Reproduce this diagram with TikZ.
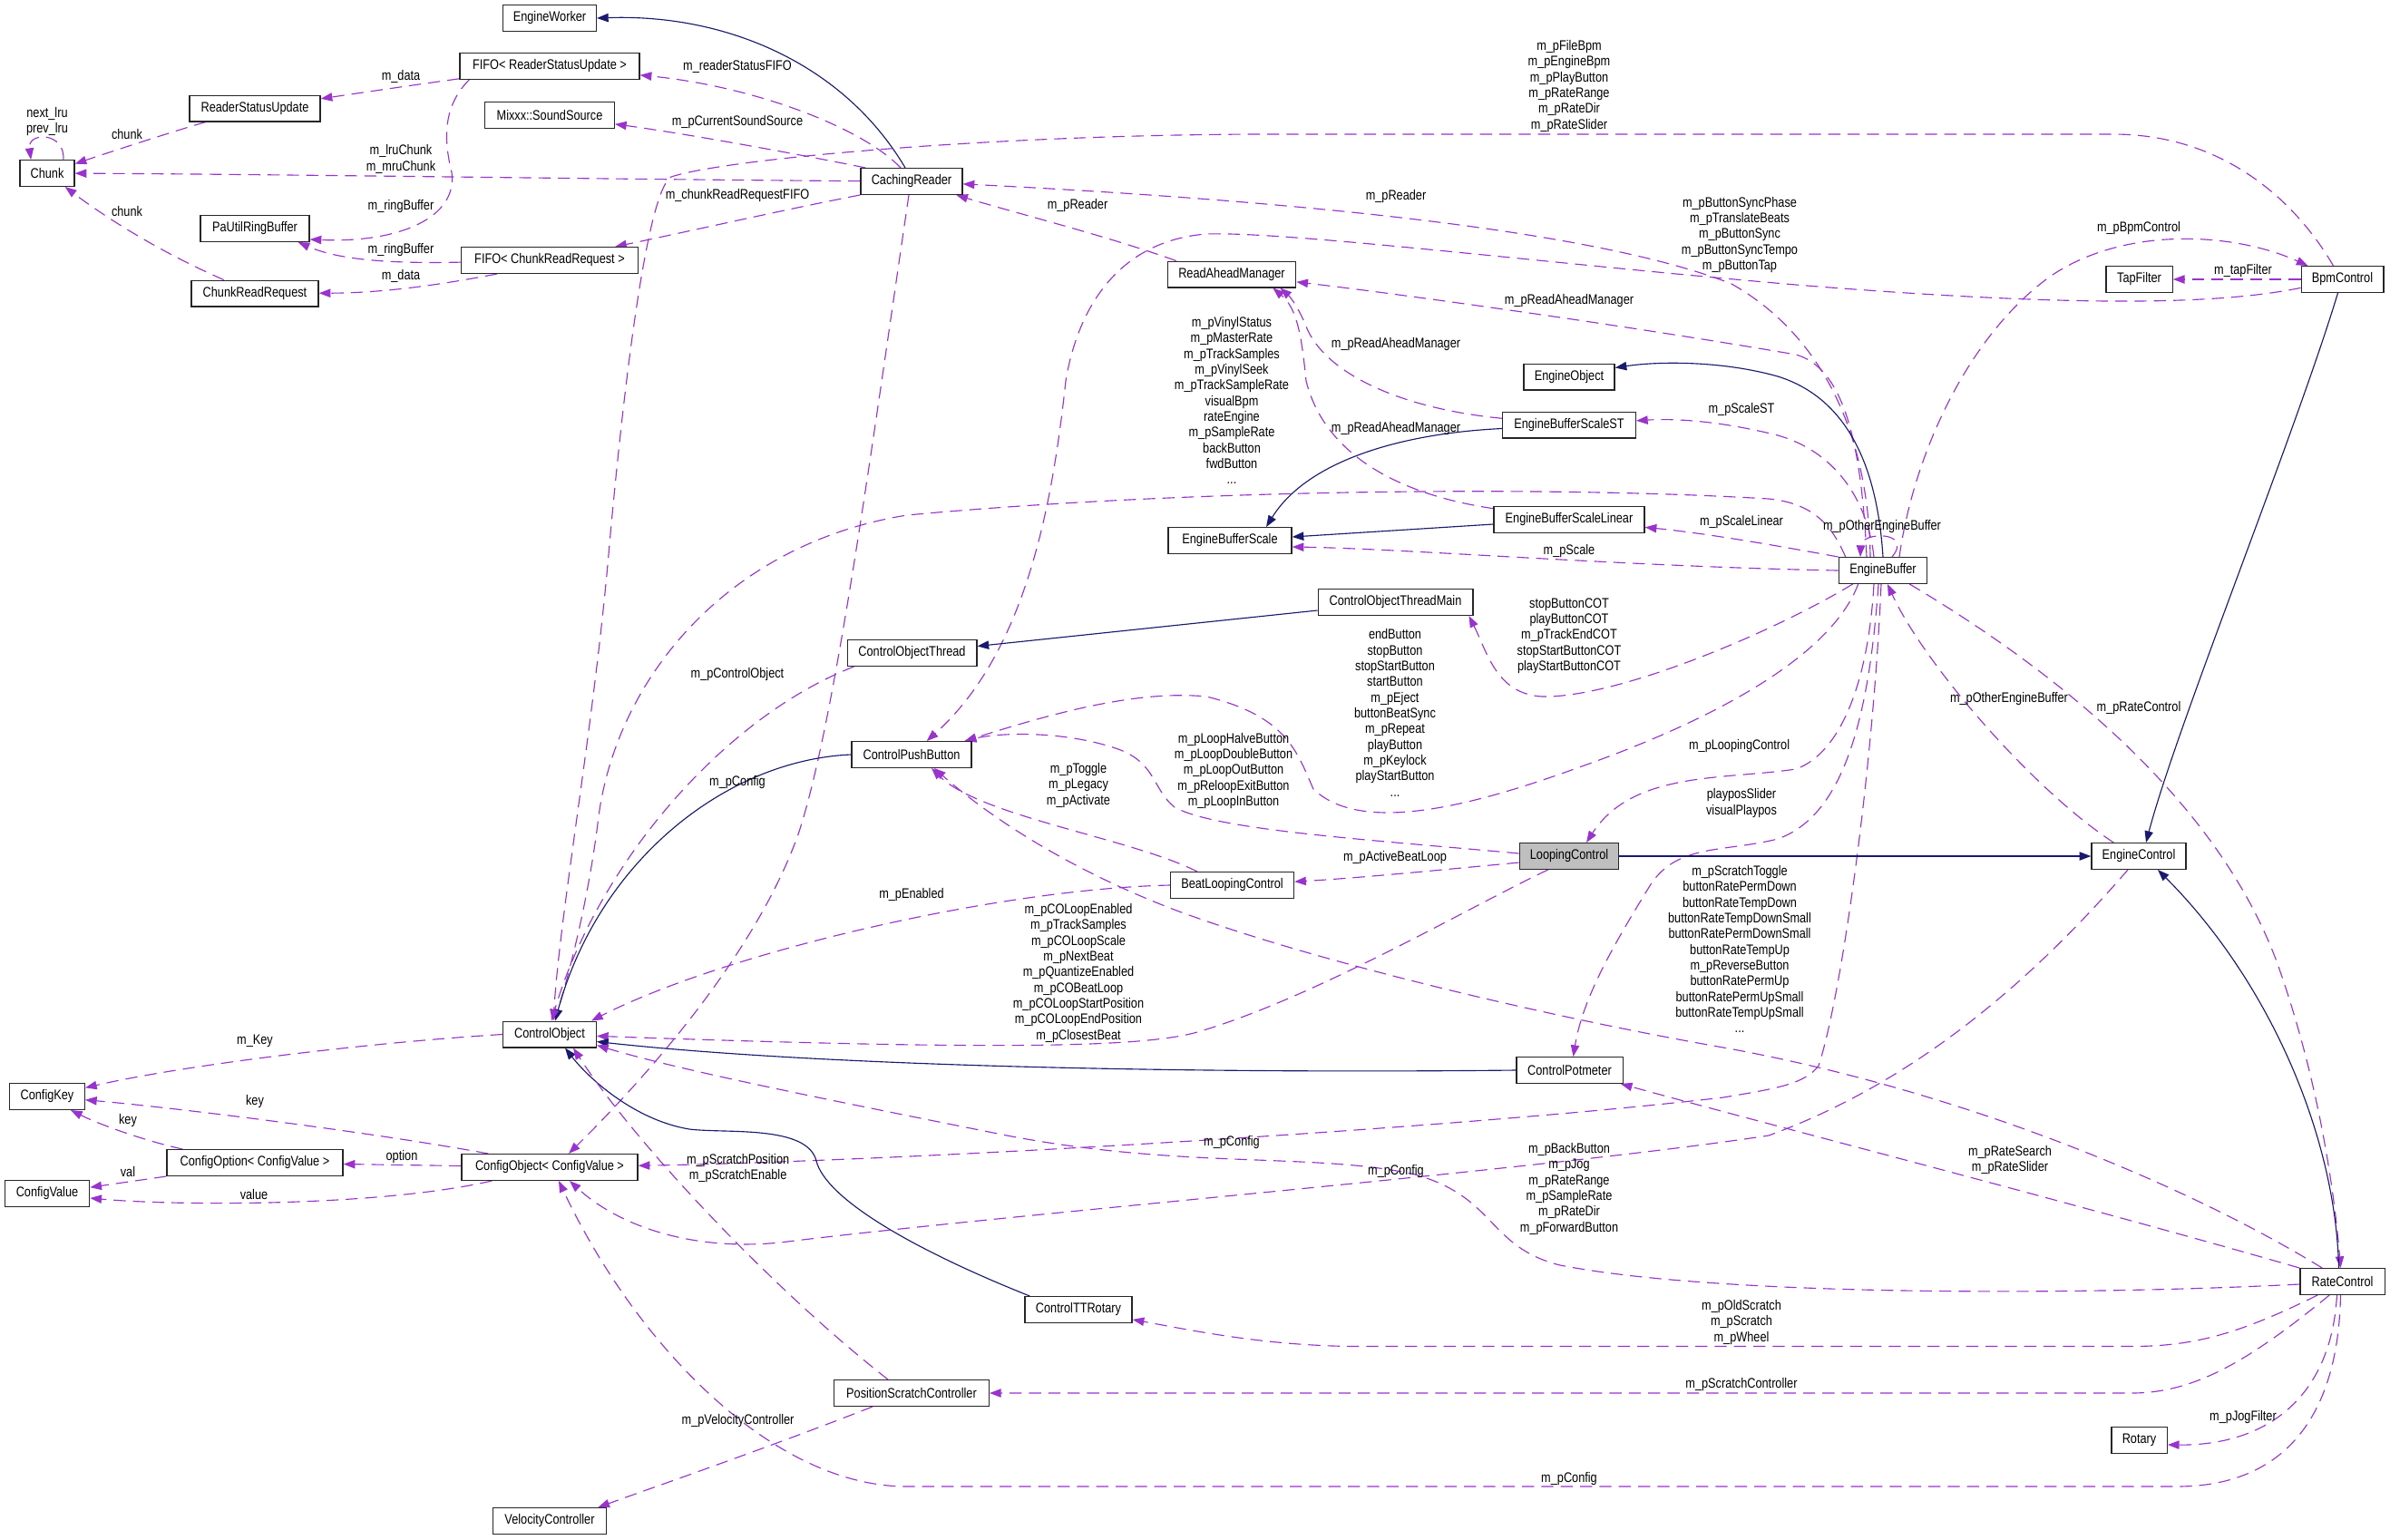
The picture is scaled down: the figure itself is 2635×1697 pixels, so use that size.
\documentclass[tikz,border=0pt]{standalone}
\usepackage{fontspec}
\setmainfont{Liberation Sans}[FakeStretch=0.83]
\usetikzlibrary{arrows.meta,calc}
\definecolor{depc}{HTML}{9A32CD}
\definecolor{inhc}{HTML}{191970}
\definecolor{selc}{HTML}{BFBFBF}
\pgfdeclarelayer{bg}
\pgfsetlayers{bg,main}
\begin{document}
\begin{tikzpicture}[x=0.75pt,y=-0.75pt,
  every node/.style={font=\fontsize{11.5pt}{13pt}\selectfont},
  box/.style={draw=black!85, line width=1pt, fill=white, inner xsep=2pt, inner ysep=0pt, minimum height=21.5pt},
  lbl/.style={align=center, inner sep=0pt},
  dep/.style={draw=depc, line width=0.85pt, dash pattern=on 10pt off 6pt, -{Triangle[length=9.5pt,width=7pt]}},
  inh/.style={draw=inhc, line width=0.85pt, -{Triangle[length=9.5pt,width=7pt]}}]
\useasboundingbox (0,0) rectangle (2635,1697);

% ---------------- nodes ----------------
\node[box, minimum width=77pt] (EW) at (606,20) {EngineWorker};
\node[box, minimum width=148.5pt] (FRS) at (606,73) {FIFO< ReaderStatusUpdate >};
\node[box, minimum width=107pt] (MSS) at (606,127) {Mixxx::SoundSource};
\node[box, minimum width=108pt] (RSU) at (281,119.5) {ReaderStatusUpdate};
\node[box, minimum width=45pt] (CH) at (52,191) {Chunk};
\node[box, minimum width=90pt] (PRB) at (281,252) {PaUtilRingBuffer};
\node[box, minimum width=146pt] (FCR) at (606,287) {FIFO< ChunkReadRequest >};
\node[box, minimum width=105pt] (CRR) at (281,323.5) {ChunkReadRequest};
\node[box, minimum width=84pt] (CR) at (1005,200) {CachingReader};
\node[box, minimum width=106pt] (RAM) at (1358,302.5) {ReadAheadManager};
\node[box, minimum width=75pt] (EO) at (1730,415.5) {EngineObject};
\node[box, minimum width=110pt] (EBST) at (1730,468.5) {EngineBufferScaleST};
\node[box, minimum width=124.5pt] (EBSL) at (1730,573) {EngineBufferScaleLinear};
\node[box, minimum width=102pt] (EBS) at (1356,596) {EngineBufferScale};
\node[box, minimum width=55pt] (TF) at (2358.5,308) {TapFilter};
\node[box, minimum width=68pt] (BC) at (2582.5,308) {BpmControl};
\node[box, minimum width=73pt] (EB) at (2076,629) {EngineBuffer};
\node[box, minimum width=128pt] (COTM) at (1538.5,664) {ControlObjectThreadMain};
\node[box, minimum width=107pt] (COT) at (1005.5,720) {ControlObjectThread};
\node[box, minimum width=99pt] (CPB) at (1005,832) {ControlPushButton};
\node[box, minimum width=102pt] (BLC) at (1358.5,976) {BeatLoopingControl};
\node[box, minimum width=82pt, fill=selc] (LC) at (1730,944) {LoopingControl};
\node[box, minimum width=78pt] (EC) at (2358,944) {EngineControl};
\node[box, minimum width=77pt] (CO) at (606,1140.5) {ControlObject};
\node[box, minimum width=88pt] (CPM) at (1730.5,1180) {ControlPotmeter};
\node[box, minimum width=62pt] (CK) at (52,1209) {ConfigKey};
\node[box, minimum width=145.5pt] (COpt) at (281,1282) {ConfigOption< ConfigValue >};
\node[box, minimum width=70pt] (CV) at (52,1316) {ConfigValue};
\node[box, minimum width=145.5pt] (CObj) at (606,1287) {ConfigObject< ConfigValue >};
\node[box, minimum width=88.5pt] (CTT) at (1189,1444) {ControlTTRotary};
\node[box, minimum width=70pt] (RC) at (2582.5,1413) {RateControl};
\node[box, minimum width=128pt] (PSC) at (1005,1536) {PositionScratchController};
\node[box, minimum width=46pt] (ROT) at (2358.5,1588) {Rotary};
\node[box, minimum width=94pt] (VC) at (606,1677) {VelocityController};

% ---------------- labels ----------------
\node[lbl] (l1) at (52,134) {next\_lru\\prev\_lru};
\node[lbl] (l2) at (140,148) {chunk};
\node[lbl] (l3) at (442,175.5) {m\_lruChunk\\m\_mruChunk};
\node[lbl] (l4) at (140,233) {chunk};
\node[lbl] (l5) at (442,84) {m\_data};
\node[lbl] (l6) at (442,227.6) {m\_ringBuffer};
\node[lbl] (l7) at (442,275.6) {m\_ringBuffer};
\node[lbl] (l8) at (442,304.6) {m\_data};
\node[lbl] (l9) at (813,73) {m\_readerStatusFIFO};
\node[lbl] (l10) at (813,134.5) {m\_pCurrentSoundSource};
\node[lbl] (l11) at (813,216) {m\_chunkReadRequestFIFO};
\node[lbl] (l12) at (1188,226.5) {m\_pReader};
\node[lbl] (l13) at (1539,216.7) {m\_pReader};
\node[lbl] (l14) at (1730,331.5) {m\_pReadAheadManager};
\node[lbl] (l15) at (1918,259) {m\_pButtonSyncPhase\\m\_pTranslateBeats\\m\_pButtonSync\\m\_pButtonSyncTempo\\m\_pButtonTap};
\node[lbl] (l16) at (1730,95) {m\_pFileBpm\\m\_pEngineBpm\\m\_pPlayButton\\m\_pRateRange\\m\_pRateDir\\m\_pRateSlider};
\node[lbl] (l17) at (2358,251.6) {m\_pBpmControl};
\node[lbl] (l18) at (2473,299) {m\_tapFilter};
\node[lbl] (l19) at (1539,380) {m\_pReadAheadManager};
\node[lbl] (l20) at (1539,472.6) {m\_pReadAheadManager};
\node[lbl] (l21) at (1920,451.5) {m\_pScaleST};
\node[lbl] (l22) at (1920,576) {m\_pScaleLinear};
\node[lbl] (l23) at (1730,607.5) {m\_pScale};
\node[lbl] (l24) at (2075,581) {m\_pOtherEngineBuffer};
\node[lbl] (l25) at (1730,701) {stopButtonCOT\\playButtonCOT\\m\_pTrackEndCOT\\stopStartButtonCOT\\playStartButtonCOT};
\node[lbl] (l26) at (1538,786) {endButton\\stopButton\\stopStartButton\\startButton\\m\_pEject\\buttonBeatSync\\m\_pRepeat\\playButton\\m\_pKeylock\\playStartButton\\...};
\node[lbl] (l27) at (1360,850) {m\_pLoopHalveButton\\m\_pLoopDoubleButton\\m\_pLoopOutButton\\m\_pReloopExitButton\\m\_pLoopInButton};
\node[lbl] (l28) at (1917.6,823) {m\_pLoopingControl};
\node[lbl] (l29) at (1920,885.5) {playposSlider\\visualPlaypos};
\node[lbl] (l30) at (1358,1260) {m\_pConfig};
\node[lbl] (l31) at (2215,771) {m\_pOtherEngineBuffer};
\node[lbl] (l32) at (2358,780.6) {m\_pRateControl};
\node[lbl] (l33) at (1538,946) {m\_pActiveBeatLoop};
\node[lbl] (l34) at (1189,1072.7) {m\_pCOLoopEnabled\\m\_pTrackSamples\\m\_pCOLoopScale\\m\_pNextBeat\\m\_pQuantizeEnabled\\m\_pCOBeatLoop\\m\_pCOLoopStartPosition\\m\_pCOLoopEndPosition\\m\_pClosestBeat};
\node[lbl] (l35) at (1918,1046.5) {m\_pScratchToggle\\buttonRatePermDown\\buttonRateTempDown\\buttonRateTempDownSmall\\buttonRatePermDownSmall\\buttonRateTempUp\\m\_pReverseButton\\buttonRatePermUp\\buttonRatePermUpSmall\\buttonRateTempUpSmall\\...};
\node[lbl] (l36) at (1189,866) {m\_pToggle\\m\_pLegacy\\m\_pActivate};
\node[lbl] (l37) at (813,744) {m\_pControlObject};
\node[lbl] (l38) at (813,862.6) {m\_pConfig};
\node[lbl] (l39) at (1005,987) {m\_pEnabled};
\node[lbl] (l40) at (1358,441.5) {m\_pVinylStatus\\m\_pMasterRate\\m\_pTrackSamples\\m\_pVinylSeek\\m\_pTrackSampleRate\\visualBpm\\rateEngine\\m\_pSampleRate\\backButton\\fwdButton\\...};
\node[lbl] (l41) at (1730,1311) {m\_pBackButton\\m\_pJog\\m\_pRateRange\\m\_pSampleRate\\m\_pRateDir\\m\_pForwardButton};
\node[lbl] (l42) at (1539,1292) {m\_pConfig};
\node[lbl] (l43) at (1730,1631) {m\_pConfig};
\node[lbl] (l44) at (813.6,1288) {m\_pScratchPosition\\m\_pScratchEnable};
\node[lbl] (l45) at (281,1148) {m\_Key};
\node[lbl] (l46) at (281,1214.6) {key};
\node[lbl] (l47) at (141,1236) {key};
\node[lbl] (l48) at (443,1275.7) {option};
\node[lbl] (l49) at (141,1291.7) {val};
\node[lbl] (l50) at (280,1316.5) {value};
\node[lbl] (l51) at (813.6,1567) {m\_pVelocityController};
\node[lbl] (l52) at (1920,1526.5) {m\_pScratchController};
\node[lbl] (l53) at (1920,1458) {m\_pOldScratch\\m\_pScratch\\m\_pWheel};
\node[lbl] (l54) at (2473,1563) {m\_pJogFilter};
\node[lbl] (l55) at (2216,1279) {m\_pRateSearch\\m\_pRateSlider};

% ---------------- connectors ----------------
\begin{pgfonlayer}{bg}
\fill[white] (0,0) rectangle (2635,1697);
% Chunk area
\draw[dep] (CH.40) .. controls (72,145) and (30,145) .. (CH.140);
\draw[dep] (RSU) .. controls (200,142) and (120,168) .. (CH);
\draw[dep] (CR) .. controls (700,198) and (300,192) .. (CH);
\draw[dep] (CRR) .. controls (170,275) and (110,235) .. (CH);
\draw[dep] (FRS) .. controls (440,96) and (400,102) .. (RSU);
\draw[dep] ($(FRS.south west)+(11,0)$) .. controls (490,115) and (488,150) .. (498,190) .. controls (505,240) and (440,268) .. ($(PRB.east)+(0,12)$);
\draw[dep] (FCR) .. controls (420,291) and (370,285) .. ($(PRB.south east)+(-13,0)$);
\draw[dep] ($(FCR.south west)+(40,0)$) .. controls (480,315) and (420,323) .. (CRR);
% CachingReader
\draw[inh] ($(CR.north)+(-7,0)$) .. controls (930,70) and (800,15) .. (EW.east);
\draw[dep] ($(CR.north)+(-12,0)$) .. controls (950,140) and (830,95) .. (FRS);
\draw[dep] ($(CR.north west)+(6,0)$) .. controls (880,170) and (760,148) .. (MSS);
\draw[dep] (CR.south west) .. controls (870,230) and (760,255) .. (FCR);
\draw[dep] ($(RAM.north west)+(10,0)$) .. controls (1220,260) and (1120,235) .. (CR);
\draw[dep] ($(CR.south)+(-3,0)$) .. controls (960,500) and (920,800) .. (880,920) .. controls (830,1060) and (700,1200) .. ($(CObj.north)+(21,0)$);
% EngineBuffer top side
\draw[dep] ($(EB.north)+(-14,0)$) .. controls (2060,480) and (2010,370) .. (1909,313) .. controls (1780,262) and (1500,225) .. (CR);
\draw[dep] ($(EB.north)+(-18,0)$) .. controls (2052,480) and (2030,405) .. (1980,391) .. controls (1800,360) and (1550,325) .. (RAM);
\draw[dep] ($(EB.north)+(18,0)$) .. controls (2110,500) and (2170,370) .. (2260,305) .. controls (2340,250) and (2460,255) .. ($(BC.north west)+(8,0)$);
\draw[inh] (EB.north) .. controls (2070,520) and (2040,440) .. (1960,415) .. controls (1900,398) and (1830,398) .. ($(EO.east)+(0,-10)$);
\draw[dep] ($(EB.north)+(-10,0)$) .. controls (2060,560) and (2030,500) .. (1960,480) .. controls (1900,465) and (1850,461) .. (EBST);
\draw[dep] (EB.north west) .. controls (1950,600) and (1880,588) .. (EBSL);
\draw[dep] (EB.west) .. controls (1800,625) and (1550,605) .. ($(EBS.east)+(0,7)$);
\draw[dep] ($(EB.north)+(10,0)$) .. controls (2110,585) and (2052,586) .. ($(EB.north)+(-25,0)$);
\draw[dep] ($(EB.north west)+(8,0)$) .. controls (2020,580) and (2000,555) .. (1950,550) .. controls (1700,535) and (1300,540) .. (1000,568) .. controls (800,600) and (680,750) .. (660,900) .. controls (648,1000) and (625,1080) .. ($(CO.north)+(6,0)$);
% BpmControl
\draw[dep] (BC) .. controls (2450,335) and (2300,340) .. (1980,314) .. controls (1700,290) and (1420,255) .. (1330,258) .. controls (1240,265) and (1190,330) .. (1175,420) .. controls (1160,560) and (1130,720) .. (CPB);
\draw[dep] ($(BC.north)+(-10,0)$) .. controls (2530,220) and (2450,148) .. (2330,148) -- (1400,148) .. controls (1100,148) and (800,175) .. (740,195) .. controls (715,210) and (690,400) .. (672,600) .. controls (655,800) and (618,1000) .. ($(CO.north)+(4,0)$);
\draw[dep] (BC) -- (TF);
\draw[inh] ($(BC.south)+(-5,0)$) .. controls (2530,480) and (2400,800) .. ($(EC.north)+(8,0)$);
% scales
\draw[dep] (EBST) .. controls (1540,450) and (1460,410) .. (1440,360) .. controls (1430,335) and (1420,325) .. ($(RAM.south east)+(-18,0)$);
\draw[dep] (EBSL) .. controls (1540,545) and (1460,500) .. (1440,420) .. controls (1435,370) and (1430,340) .. ($(RAM.south east)+(-26,0)$);
\draw[inh] ($(EBST.west)+(0,4)$) .. controls (1540,478) and (1440,510) .. ($(EBS.north)+(40,0)$);
\draw[inh] ($(EBSL.west)+(0,5)$) -- ($(EBS.east)+(0,-4)$);
% EngineBuffer bottom side
\draw[inh] (COTM) -- (COT);
\draw[dep] ($(EB.south west)+(16,0)$) .. controls (1950,700) and (1780,770) .. (1700,768) .. controls (1650,765) and (1640,720) .. ($(COTM.south east)+(-5,0)$);
\draw[dep] ($(EB.south west)+(22,0)$) .. controls (2020,720) and (1900,790) .. (1741,846) .. controls (1620,890) and (1500,920) .. (1448,870) .. controls (1430,830) and (1420,790) .. (1330,768) .. controls (1250,760) and (1150,790) .. ($(CPB.north east)+(-8,0)$);
\draw[dep] ($(EB.south)+(-10,0)$) .. controls (2060,750) and (2030,830) .. (1980,848) .. controls (1900,860) and (1800,850) .. ($(LC.north)+(19,0)$);
\draw[dep] ($(EB.south)+(-5,0)$) .. controls (2060,800) and (2030,900) .. (1960,925) .. controls (1900,940) and (1850,930) .. (1820,975) .. controls (1780,1040) and (1745,1100) .. ($(CPM.north)+(4,0)$);
\draw[dep] ($(EB.south)+(-2,0)$) .. controls (2065,850) and (2030,1100) .. (2005,1175) .. controls (1990,1195) and (1960,1200) .. (1900,1210) .. controls (1600,1245) and (1000,1280) .. (CObj);
\draw[dep] ($(EC.north west)+(25,0)$) .. controls (2240,870) and (2120,730) .. ($(EB.south)+(5,0)$);
\draw[dep] ($(EB.south east)+(-20,0)$) .. controls (2300,760) and (2450,900) .. (2510,1060) .. controls (2560,1200) and (2575,1330) .. ($(RC.north)+(-2,0)$);
\draw[inh] ($(RC.north)+(-4,0)$) .. controls (2575,1250) and (2500,1080) .. ($(EC.south)+(21,0)$);
% LoopingControl
\draw[inh] (LC) -- (EC);
\draw[dep] ($(LC.west)+(0,-3)$) .. controls (1500,925) and (1340,915) .. (1295,890) .. controls (1270,870) and (1275,840) .. (1230,825) .. controls (1170,805) and (1100,808) .. ($(CPB.north east)+(-8,0)$);
\draw[dep] ($(LC.west)+(0,7)$) .. controls (1600,958) and (1500,968) .. (BLC);
\draw[dep] ($(LC.south west)+(32,0)$) .. controls (1620,1000) and (1450,1100) .. (1320,1138) .. controls (1260,1155) and (1100,1158) .. (CO);
\draw[dep] ($(BLC.north west)+(30,0)$) .. controls (1250,925) and (1080,900) .. ($(CPB.south)+(22,0)$);
\draw[dep] (BLC.west) .. controls (1100,980) and (800,1050) .. ($(CO.north east)+(-6,0)$);
% ControlObject family
\draw[inh] (CPB.west) .. controls (800,838) and (660,950) .. ($(CO.north)+(6,0)$);
\draw[dep] ($(COT.south west)+(8,0)$) .. controls (800,790) and (660,950) .. ($(CO.north)+(2,0)$);
\draw[inh] ($(CTT.north west)+(6,0)$) .. controls (1000,1375) and (910,1320) .. (900,1280) .. controls (890,1240) and (800,1250) .. (760,1245) .. controls (700,1235) and (650,1190) .. ($(CO.south)+(17,0)$);
\draw[inh] (CPM.west) .. controls (1300,1184) and (900,1175) .. ($(CO.east)+(0,8)$);
\draw[dep] ($(PSC.north west)+(60,0)$) .. controls (850,1420) and (700,1260) .. ($(CO.south)+(26,0)$);
% RateControl
\draw[dep] ($(RC.north west)+(25,0)$) .. controls (2400,1300) and (2150,1200) .. (1900,1155) .. controls (1700,1120) and (1450,1060) .. (1300,1005) .. controls (1180,960) and (1090,900) .. ($(CPB.south)+(25,0)$);
\draw[dep] ($(RC.west)+(0,3)$) .. controls (2300,1428) and (1900,1430) .. (1720,1395) .. controls (1640,1375) and (1650,1320) .. (1560,1295) .. controls (1450,1270) and (1300,1290) .. (1100,1250) .. controls (900,1210) and (750,1180) .. ($(CO.south east)+(0,-3)$);
\draw[dep] ($(RC.west)+(0,-15)$) .. controls (2300,1330) and (1950,1240) .. ($(CPM.south east)+(-3,0)$);
\draw[dep] ($(RC.south)+(-2,0)$) .. controls (2578,1560) and (2520,1639) .. (2400,1639) -- (1000,1639) .. controls (850,1639) and (700,1480) .. ($(CObj.south)+(10,0)$);
\draw[dep] ($(RC.south west)+(33,0)$) .. controls (2480,1500) and (2420,1536) .. (2350,1536) -- (PSC);
\draw[dep] ($(RC.south west)+(20,0)$) .. controls (2470,1470) and (2420,1484.5) .. (2350,1484.5) -- (1500,1484.5) .. controls (1400,1484.5) and (1320,1468) .. (CTT);
\draw[dep] ($(RC.south)+(-6,0)$) .. controls (2570,1540) and (2500,1594) .. ($(ROT.east)+(0,5)$);
\draw[dep] ($(EC.south)+(-12,0)$) .. controls (2250,1070) and (2120,1190) .. (1950,1252) .. controls (1700,1290) and (1100,1340) .. (860,1370) .. controls (760,1380) and (680,1350) .. ($(CObj.south)+(22,0)$);
% Config
\draw[dep] (CO.west) .. controls (400,1150) and (200,1175) .. (CK);
\draw[dep] ($(CObj.north west)+(30,0)$) .. controls (420,1250) and (200,1222) .. (CK);
\draw[dep] ($(COpt.north west)+(18,0)$) .. controls (160,1258) and (110,1240) .. ($(CK.south)+(26,0)$);
\draw[dep] (CObj) -- (COpt);
\draw[dep] (COpt.south west) -- (CV);
\draw[dep] ($(CObj.south west)+(34,0)$) .. controls (420,1330) and (200,1330) .. ($(CV.east)+(0,5)$);
\draw[dep] ($(PSC.south west)+(43,0)$) .. controls (850,1595) and (720,1640) .. ($(VC.north east)+(-10,0)$);
\end{pgfonlayer}
\end{tikzpicture}
\end{document}
